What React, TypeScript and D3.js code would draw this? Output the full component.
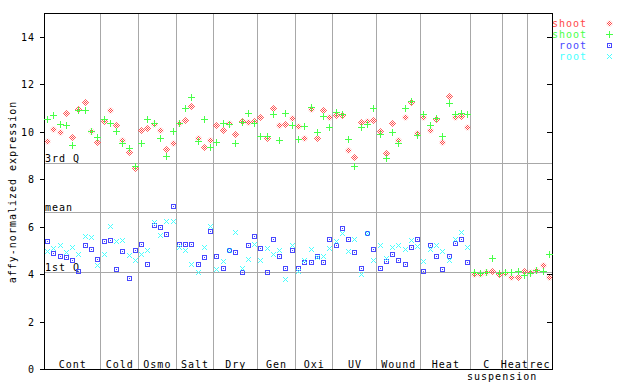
import React from "react";
import * as d3 from "d3";

const groupLabels = ["Cont", "Cold", "Osmo", "Salt", "Dry", "Gen", "Oxi", "UV", "Wound", "Heat", "C", "Heat", "rec"];
const groupSubLabels = ["", "", "", "", "", "", "", "", "", "", "suspension", "", ""];
const groupSizes = [9, 6, 6, 6, 7, 6, 6, 7, 7, 8, 5, 4, 4];

const shootRep1 = [
  9.62, 10.11, 9.98, 10.78, 9.77, 10.98, 11.25, 10.05, 9.59,
  10.47, 10.91, 10.29, 9.64, 9.14, 8.46,
  10.07, 10.15, 10.32, 10.07, 9.27, 9.53,
  10.36, 10.49, 11.09, 9.74, 9.36, 9.64,
  10.29, 10.07, 10.36, 9.9, 10.44, 10.4, 10.44,
  10.61, 9.76, 10.99, 10.28, 10.32, 10.57,
  10.23, 9.73, 10.97, 9.73, 10.91, 10.61,
  10.7, 10.7, 9.22, 8.93, 10.4, 10.44, 10.49,
  10.02, 9.12, 10.36, 9.64, 10.61, 11.25, 9.94,
  10.61, 10.07, 10.53, 9.56, 11.5, 10.61, 10.66, 10.19,
  3.99, 3.99, 4.08, 4.12, 3.99,
  4.04, 3.87, 3.87, 4.12,
  4.08, 4.16, 4.37, 3.87,
];

const shootRep2 = [
  10.53, 10.71, 10.33, 10.28, 9.43, 10.91, 10.91, 10.05, 9.77,
  10.56, 10.36, 10.02, 9.52, 9.31, 8.55,
  9.53, 10.53, 10.36, 9.74, 8.97, 10.02,
  10.36, 10.99, 11.47, 9.6, 10.53, 9.35,
  9.57, 10.36, 10.32, 9.52, 10.4, 10.78, 10.36,
  9.81, 9.81, 10.74, 9.64, 10.78, 10.28,
  9.69, 10.23, 11.04, 9.98, 10.66, 10.19,
  10.83, 10.74, 9.69, 8.55, 10.19, 10.32, 10.99,
  9.9, 8.88, 9.98, 9.52, 10.99, 11.29, 9.86,
  10.74, 10.28, 10.57, 9.81, 11.21, 10.74, 10.78, 10.74,
  4.08, 4.04, 4.08, 4.67, 4.04,
  4.08, 4.08, 4.12, 3.95,
  4.04, 4.16, 4.12, 4.84,
];

const rootRep1 = [
  5.4, 4.88, 4.77, 4.71, 4.58, 4.13, 5.22, 5.06, 4.64,
  5.39, 5.43, 4.2, 4.96, 3.82, 5.01,
  5.26, 4.42, 6.06, 5.98, 5.68, 6.86,
  5.26, 5.26, 5.26, 4.42, 4.71, 5.81,
  4.75, 4.25, 5.01, 4.92, 4.08, 5.22, 5.6,
  5.09, 4.08, 5.47, 4.78, 4.25, 5.01,
  4.25, 4.5, 4.5, 4.78, 4.5, 5.47,
  5.22, 5.93, 5.47, 4.92, 4.25, 5.72, 5.05,
  4.25, 4.54, 4.84, 4.61, 4.42, 5.13, 5.47,
  4.12, 5.22, 4.78, 4.2, 4.75, 5.3, 5.47, 4.5,
  null, null, null, null, null,
  null, null, null, null,
  null, null, null, null,
];

const rootRep2 = [
  4.99, 5.1, 5.23, 4.92, 5.15, 4.84, 5.61, 5.57, 4.37,
  4.87, 6.03, 5.39, 5.43, 4.8, 4.58,
  4.87, 5.01, 6.19, 5.64, 6.23, 6.23,
  5.13, 5.01, 4.42, 4.08, 5.13, 6.03,
  4.2, 4.54, 5.01, 5.77, 4.25, 4.63, 5.26,
  4.58, 5.09, 4.87, 5.01, 3.78, 5.22,
  4.12, 4.61, 5.05, 4.71, 4.78, 5.09,
  5.39, 5.72, 4.96, 5.47, 3.99, 5.72, 4.58,
  5.24, 4.67, 5.13, 5.24, 5.05, 5.43, 5.17,
  4.54, 5.05, 5.24, 4.96, 4.61, 5.47, 5.77, 5.13,
  null, null, null, null, null,
  null, null, null, null,
  null, null, null, null,
];

const yTicks = [0, 2, 4, 6, 8, 10, 12, 14];
const refLabels = ["3rd Q", "mean", "1st Q"];
const refValues = [8.67, 6.61, 4.09];
const seriesNames = ["shoot", "shoot", "root", "root"];
const seriesColors = ["#ff4848", "#48ff48", "#4848ff", "#48ffff"];
const seriesShapes = ["diamond", "plus", "square", "cross"];
const seriesData = [shootRep1, shootRep2, rootRep1, rootRep2];

const FONT = "'DejaVu Sans Mono', monospace";
const LEFT = 44;
const RIGHT = 552;
const TOP = 13.3;
const BOTTOM = 369;

const p = (v: number) => Math.round(v) + 0.5;

function Marker({ shape, cx, cy, color }: { shape: string; cx: number; cy: number; color: string }) {
  const x = Math.round(cx);
  const y = Math.round(cy);
  if (shape === "diamond") {
    const c = x + 0.5, d = y + 0.5;
    return (
      <polygon
        points={`${c},${d - 3.6} ${c + 3.6},${d} ${c},${d + 3.6} ${c - 3.6},${d}`}
        fill="url(#chk)"
        stroke="none"
      />
    );
  }
  if (shape === "plus") {
    return (
      <g stroke={color} strokeWidth={1} shapeRendering="crispEdges">
        <line x1={x - 3} x2={x + 4} y1={y + 0.5} y2={y + 0.5} />
        <line x1={x + 0.5} x2={x + 0.5} y1={y - 3} y2={y + 4} />
      </g>
    );
  }
  if (shape === "square") {
    return (
      <g shapeRendering="crispEdges">
        <rect x={x - 1.5} y={y - 1.5} width={4} height={4} fill="none" stroke={color} strokeWidth={1} />
        <rect x={x} y={y} width={1} height={1} fill={color} />
      </g>
    );
  }
  return (
    <g stroke={color} strokeWidth={1}>
      <line x1={x - 2} x2={x + 3} y1={y - 2} y2={y + 3} />
      <line x1={x - 2} x2={x + 3} y1={y + 3} y2={y - 2} />
    </g>
  );
}

export default function App() {
  const n = d3.sum(groupSizes);
  const x = d3.scaleLinear().domain([0, n]).range([LEFT, RIGHT]);
  const y = d3.scaleLinear().domain([0, 15]).range([BOTTOM, TOP]);

  const starts = groupSizes.map((_, i) => d3.sum(groupSizes.slice(0, i)));

  return (
    <svg
      width={640}
      height={384}
      style={{ position: "absolute", left: 0, top: 0, display: "block", background: "#fff" }}
      fontFamily={FONT}
      fontSize={10}
    >
      <defs>
        <pattern id="chk" width={2} height={2} patternUnits="userSpaceOnUse">
          <rect x={0} y={0} width={1} height={1} fill={seriesColors[0]} />
          <rect x={1} y={1} width={1} height={1} fill={seriesColors[0]} />
        </pattern>
      </defs>
      <rect x={0} y={0} width={640} height={384} fill="#fff" />

      {/* vertical group separators */}
      <g stroke="#a8a8a8" strokeWidth={1} shapeRendering="crispEdges">
        {starts.slice(1).map((s, i) => (
          <line key={i} x1={p(x(s))} x2={p(x(s))} y1={TOP} y2={BOTTOM} />
        ))}
        {refValues.map((v, i) => (
          <line key={"r" + i} x1={LEFT} x2={RIGHT} y1={p(y(v))} y2={p(y(v))} />
        ))}
      </g>

      {/* reference labels */}
      {refLabels.map((t, i) => (
        <text key={t} x={45} y={Math.round(y(refValues[i])) - 1} letterSpacing={1} fill="#000">
          {t}
        </text>
      ))}

      {/* frame */}
      <g stroke="#000" strokeWidth={1} shapeRendering="crispEdges" fill="none">
        <line x1={LEFT + 0.5} x2={LEFT + 0.5} y1={13} y2={BOTTOM + 1} />
        <line x1={RIGHT + 0.5} x2={RIGHT + 0.5} y1={13} y2={BOTTOM + 1} />
        <line x1={LEFT} x2={RIGHT + 1} y1={13.5} y2={13.5} />
        <line x1={LEFT} x2={RIGHT + 1} y1={BOTTOM + 0.5} y2={BOTTOM + 0.5} />
        {yTicks.map((t) => (
          <g key={t}>
            <line x1={LEFT - 4} x2={LEFT} y1={p(y(t))} y2={p(y(t))} />
            <line x1={RIGHT - 5} x2={RIGHT} y1={p(y(t))} y2={p(y(t))} />
          </g>
        ))}
      </g>

      {/* y tick labels */}
      {yTicks.map((t) => (
        <text key={t} x={35} y={Math.round(y(t)) + 4} textAnchor="end" letterSpacing={1} fill="#000">
          {t}
        </text>
      ))}

      {/* y title */}
      <text
        transform="translate(15.5,192) rotate(-90)"
        textAnchor="middle"
        letterSpacing={1}
        fill="#000"
      >
        affy-normalized expression
      </text>

      {/* x labels */}
      {groupLabels.map((g, i) => {
        const cx = x(starts[i] + groupSizes[i] / 2);
        return (
          <g key={i}>
            <text x={cx + 0.5} y={367.5} textAnchor="middle" letterSpacing={1} fill="#000">
              {g}
            </text>
            {groupSubLabels[i] ? (
              <text x={cx + 16} y={379.5} textAnchor="middle" letterSpacing={1} fill="#000">
                {groupSubLabels[i]}
              </text>
            ) : null}
          </g>
        );
      })}

      {/* data */}
      {seriesData.map((arr, si) => (
        <g key={si}>
          {arr.map((v, i) =>
            v == null ? null : (
              <Marker key={i} shape={seriesShapes[si]} cx={x(i + 0.5)} cy={y(v)} color={seriesColors[si]} />
            )
          )}
        </g>
      ))}

      {/* legend */}
      {seriesNames.map((s, i) => (
        <g key={i}>
          <text x={587} y={27.3 + i * 10.9} textAnchor="end" letterSpacing={1} fill={seriesColors[i]}>
            {s}
          </text>
          <Marker shape={seriesShapes[i]} cx={609} cy={23.3 + i * 10.9} color={seriesColors[i]} />
        </g>
      ))}
    </svg>
  );
}
